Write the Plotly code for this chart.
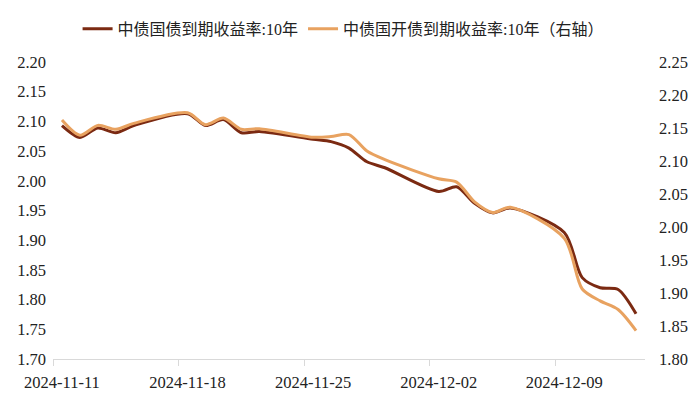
import plotly.graph_objects as go

dates = ["2024-11-11", "2024-11-12", "2024-11-13", "2024-11-14", "2024-11-15",
         "2024-11-18", "2024-11-19", "2024-11-20", "2024-11-21", "2024-11-22",
         "2024-11-25", "2024-11-26", "2024-11-27", "2024-11-28", "2024-11-29",
         "2024-12-02", "2024-12-03", "2024-12-04", "2024-12-05", "2024-12-06",
         "2024-12-09", "2024-12-10", "2024-12-11", "2024-12-12", "2024-12-13"]

gov_10y = [2.093, 2.073, 2.089, 2.081, 2.093,
           2.113, 2.093, 2.103, 2.081, 2.083,
           2.070, 2.066, 2.055, 2.032, 2.022,
           1.982, 1.990, 1.962, 1.946, 1.954,
           1.913, 1.837, 1.820, 1.817, 1.776]

cdb_10y = [2.162, 2.139, 2.154, 2.148, 2.157,
           2.173, 2.155, 2.165, 2.148, 2.149,
           2.136, 2.137, 2.140, 2.115, 2.102,
           2.073, 2.068, 2.038, 2.022, 2.030,
           1.983, 1.906, 1.888, 1.875, 1.843]

name_gov = "中债国债到期收益率:10年"
name_cdb = "中债国开债到期收益率:10年（右轴）"

tick_dates = ["2024-11-11", "2024-11-18", "2024-11-25", "2024-12-02", "2024-12-09"]
left_ticks = [1.70, 1.75, 1.80, 1.85, 1.90, 1.95, 2.00, 2.05, 2.10, 2.15, 2.20]
right_ticks = [1.80, 1.85, 1.90, 1.95, 2.00, 2.05, 2.10, 2.15, 2.20, 2.25]

BROWN = "#7B2A12"
ORANGE = "#E8A260"
SERIF = "Liberation Serif"
TXT = "#222222"

fig = go.Figure()
fig.add_trace(go.Scatter(x=dates, y=gov_10y, name=name_gov, mode="lines",
                         line=dict(color=BROWN, width=3, shape="spline", smoothing=0.8),
                         yaxis="y"))
fig.add_trace(go.Scatter(x=dates, y=cdb_10y, name=name_cdb, mode="lines",
                         line=dict(color=ORANGE, width=3, shape="spline", smoothing=0.8),
                         yaxis="y2"))

fig.update_layout(
    width=700, height=405,
    margin=dict(l=53, r=55, t=56, b=46),
    paper_bgcolor="white", plot_bgcolor="white",
    font=dict(family=SERIF, size=16.5, color=TXT),
    showlegend=True,
    legend=dict(orientation="h", x=0.49, xanchor="center", y=1.112, yanchor="middle",
                font=dict(family="Liberation Serif, Noto Sans CJK SC", size=16, color=TXT),
                bgcolor="rgba(0,0,0,0)", itemwidth=30, tracegroupgap=0),
    xaxis=dict(
        type="date",
        range=["2024-11-10 12:00", "2024-12-13 12:00"],
        tickvals=tick_dates, ticktext=tick_dates,
        ticks="", showgrid=False, zeroline=False,
        showline=True, linecolor="#D9D9D9", linewidth=1,
        ticklabelstandoff=8,
        tickfont=dict(family=SERIF, size=16.5, color=TXT),
        minor=dict(ticks="outside", ticklen=6, tickcolor="#D9D9D9",
                   tick0="2024-11-10 12:00", dtick=7 * 86400000, showgrid=False),
    ),
    yaxis=dict(
        range=[1.70, 2.20], tickvals=left_ticks,
        ticktext=[f"{v:.2f}" for v in left_ticks],
        showgrid=False, zeroline=False, showline=False, ticks="",
        ticklabelstandoff=6,
        tickfont=dict(family=SERIF, size=16.5, color=TXT),
    ),
    yaxis2=dict(
        range=[1.80, 2.25], tickvals=right_ticks,
        ticktext=[f"{v:.2f}" for v in right_ticks],
        overlaying="y", side="right",
        showgrid=False, zeroline=False, showline=False, ticks="",
        ticklabelstandoff=13,
        tickfont=dict(family=SERIF, size=16.5, color=TXT),
    ),
)

fig.write_html("out.html")
